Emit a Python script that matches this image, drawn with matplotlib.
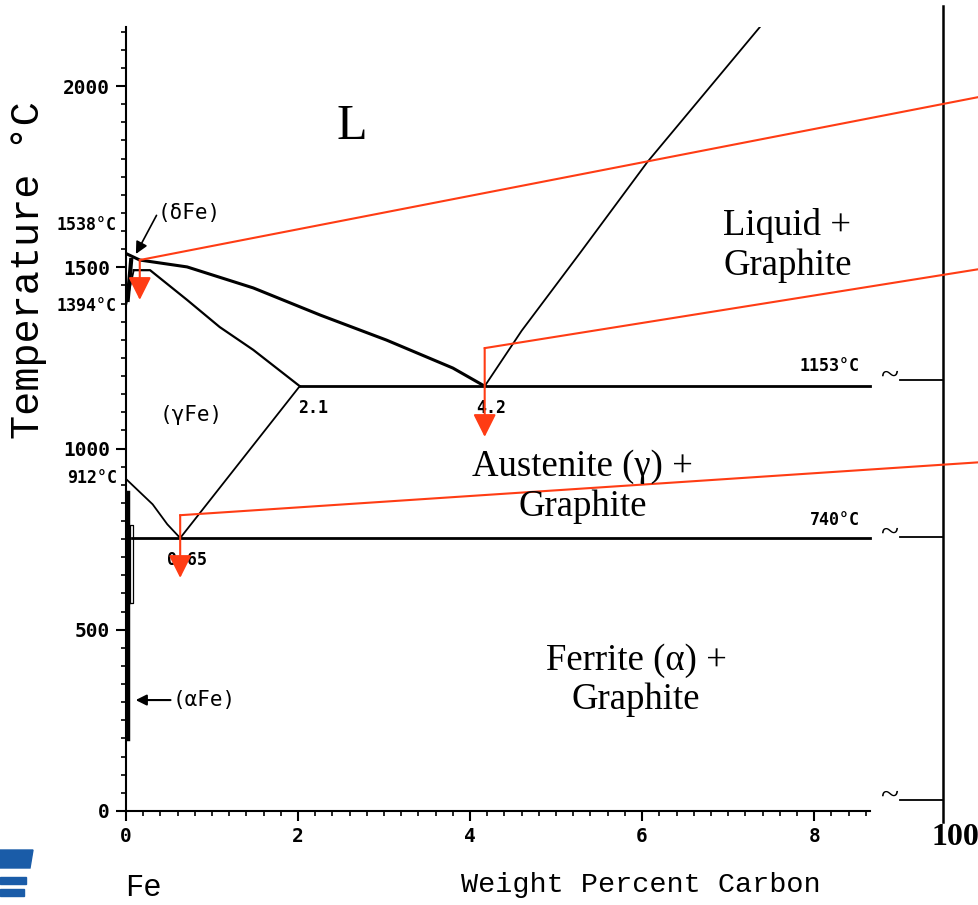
import matplotlib.pyplot as plt
from matplotlib.patches import Polygon
import numpy as np

# ---------------------------- data ----------------------------
# phase boundaries, wt% C vs temperature (deg C)
liq_gamma_x = [0.0, 0.16, 0.71, 1.48, 2.26, 3.03, 3.80, 4.17]
liq_gamma_t = [1538, 1520, 1501, 1443, 1368, 1299, 1222, 1172]
solidus_x = [0.09, 0.28, 0.71, 1.09, 1.48, 2.02]
solidus_t = [1492, 1492, 1410, 1335, 1272, 1172]
liq_graph_x = [4.17, 4.60, 5.28, 6.06, 7.37]
liq_graph_t = [1172, 1325, 1540, 1790, 2163]
acm_x = [0.63, 1.30, 2.02]
acm_t = [753, 955, 1172]
a3_x = [0.0, 0.31, 0.48, 0.63]
a3_t = [916, 846, 791, 753]
delta_x = [0.0, 0.09]
delta_t = [1394, 1492]
eutectic_x = [2.02, 8.65]
eutectic_t = [1172, 1172]
eutectoid_x = [0.07, 8.65]
eutectoid_t = [753, 753]

x_ticks = [0, 2, 4, 6, 8]
y_ticks = [0, 500, 1000, 1500, 2000]

# red pointer lines (start at right edge, bend, point down)
red_lines = [
    ([9.92, 0.16, 0.16], [1970, 1520, 1410]),
    ([9.92, 4.17, 4.17], [1495, 1277, 1032]),
    ([9.92, 0.63, 0.63], [962, 816, 643]),
]

# region labels
region_text = ["Liquid +\nGraphite", "Austenite (\u03b3) +\nGraphite", "Ferrite (\u03b1) +\nGraphite"]
region_x = [7.69, 5.31, 5.93]
region_t = [1561, 894, 361]

small_text = ["(\u03b4Fe)", "(\u03b3Fe)", "2.1", "4.2", "0.65"]
small_x = [0.73, 0.76, 2.17, 4.24, 0.71]
small_t = [1650, 1092, 1112, 1112, 692]

left_labels = ["1538\u00b0C", "1394\u00b0C", "912\u00b0C"]
left_t = [1617, 1393, 919]

# break marks to the 100 % C axis
break_t = [1189, 756, 30]

# ---------------------------- figure ----------------------------
mono = "DejaVu Sans Mono"
serif = "Liberation Serif"
red = "#ff3c14"

fig = plt.figure(figsize=(9.79, 9.05), dpi=100)
ax = fig.add_axes([0.1287, 0.1039, 0.760, 0.8663])
ax.set_xlim(0, 8.65)
ax.set_ylim(0, 2163)

for s in ["top", "right"]:
    ax.spines[s].set_visible(False)
for s in ["left", "bottom"]:
    ax.spines[s].set_linewidth(1.5)

ax.set_xticks(x_ticks)
ax.set_yticks(y_ticks)
ax.set_xticks(np.arange(0, 8.65, 0.2), minor=True)
ax.set_yticks(np.arange(0, 2163, 50), minor=True)
ax.tick_params(which="major", length=7.5, width=1.5, labelsize=14, pad=4)
ax.tick_params(which="minor", length=3.5, width=1.2)
for lab in ax.get_xticklabels() + ax.get_yticklabels():
    lab.set_fontfamily(mono)
    lab.set_fontweight("bold")

# phase boundaries
ax.plot(liq_gamma_x, liq_gamma_t, color="black", lw=2.2)
ax.plot(solidus_x, solidus_t, color="black", lw=1.6)
ax.plot(liq_graph_x, liq_graph_t, color="black", lw=1.3)
ax.plot(acm_x, acm_t, color="black", lw=1.3)
ax.plot(a3_x, a3_t, color="black", lw=1.3)
ax.plot(delta_x, delta_t, color="black", lw=1.3)
ax.plot(eutectic_x, eutectic_t, color="black", lw=2.0, clip_on=False)
ax.plot(eutectoid_x, eutectoid_t, color="black", lw=2.0, clip_on=False)

# alpha-Fe solubility region along the axis
ax.plot([0.025, 0.025], [198, 876], color="black", lw=3.2)
ax.plot([0.045, 0.08, 0.08, 0.045, 0.045], [574, 574, 789, 789, 574], color="black", lw=0.9)
ax.plot([0.02, 0.06], [1410, 1520], color="black", lw=3.0)

ax.annotate("", xy=(0.1, 1530), xytext=(0.37, 1650),
            arrowprops=dict(arrowstyle="-|>", color="black", lw=1.2, mutation_scale=18))
ax.annotate("", xy=(0.08, 306), xytext=(0.55, 306),
            arrowprops=dict(arrowstyle="-|>", color="black", lw=1.5, mutation_scale=16))
ax.text(0.54, 306, "(\u03b1Fe)", family=mono, fontsize=15, va="center", ha="left")

for txt, x, t in zip(small_text, small_x, small_t):
    ax.text(x, t, txt, family=mono, fontsize=15 if "Fe" in txt else 12,
            fontweight="bold" if "Fe" not in txt else "normal", ha="center", va="center")

ax.text(8.53, 1228, "1153\u00b0C", family=mono, fontsize=12, fontweight="bold", ha="right", va="center")
ax.text(8.53, 803, "740\u00b0C", family=mono, fontsize=12, fontweight="bold", ha="right", va="center")

for txt, t in zip(left_labels, left_t):
    ax.text(-0.105, t, txt, family=mono, fontsize=12, fontweight="bold",
            ha="right", va="center", clip_on=False)

ax.text(2.63, 1887, "L", family=serif, fontsize=36, ha="center", va="center")
for txt, x, t in zip(region_text, region_x, region_t):
    ax.text(x, t, txt, family=serif, fontsize=26.5, ha="center", va="center", linespacing=1.2)

# 100 % carbon axis with break marks
ax.plot([9.5, 9.5], [-30, 2220], color="black", lw=1.8, clip_on=False)
for t in break_t:
    ax.plot([9.0, 9.5], [t, t], color="black", lw=1.3, clip_on=False)
    ax.text(8.98, t + 10, "~", family=serif, fontsize=24, ha="right", va="center", clip_on=False)
ax.text(9.36, -72, "100", family=serif, fontsize=23, fontweight="bold", ha="left", va="center",
        clip_on=False)

# red pointers
for xs, ts in red_lines:
    ax.plot(xs[:2], ts[:2], color=red, lw=1.5, clip_on=False)
    ax.annotate("", xy=(xs[2], ts[2]), xytext=(xs[1], ts[1]),
                arrowprops=dict(arrowstyle="-|>,head_length=0.7,head_width=0.35", color=red,
                                lw=1.5, mutation_scale=20, shrinkA=0, shrinkB=0))

# axis titles
fig.text(28 / 979, 1 - 270 / 905, "Temperature \u00b0C", family="Liberation Mono", fontsize=29,
         rotation=90, ha="center", va="center")
fig.text(641 / 979, 1 - 885 / 905, "Weight Percent Carbon", family="Liberation Mono",
         fontsize=20.5, ha="center", va="center")
fig.text(143 / 979, 1 - 888 / 905, "Fe", family="Liberation Mono", fontsize=22,
         ha="center", va="center")

# corner logo stripes
logo = "#1a5ca8"
fig.patches.append(Polygon([[0, 1 - 850 / 905], [33 / 979, 1 - 850 / 905],
                            [30 / 979, 1 - 868 / 905], [0, 1 - 868 / 905]],
                           closed=True, transform=fig.transFigure, color=logo))
fig.patches.append(Polygon([[0, 1 - 877 / 905], [26 / 979, 1 - 877 / 905],
                            [26 / 979, 1 - 884 / 905], [0, 1 - 884 / 905]],
                           closed=True, transform=fig.transFigure, color=logo))
fig.patches.append(Polygon([[0, 1 - 889 / 905], [24 / 979, 1 - 889 / 905],
                            [24 / 979, 1 - 896 / 905], [0, 1 - 896 / 905]],
                           closed=True, transform=fig.transFigure, color=logo))

fig.savefig("out.png", dpi=100)
